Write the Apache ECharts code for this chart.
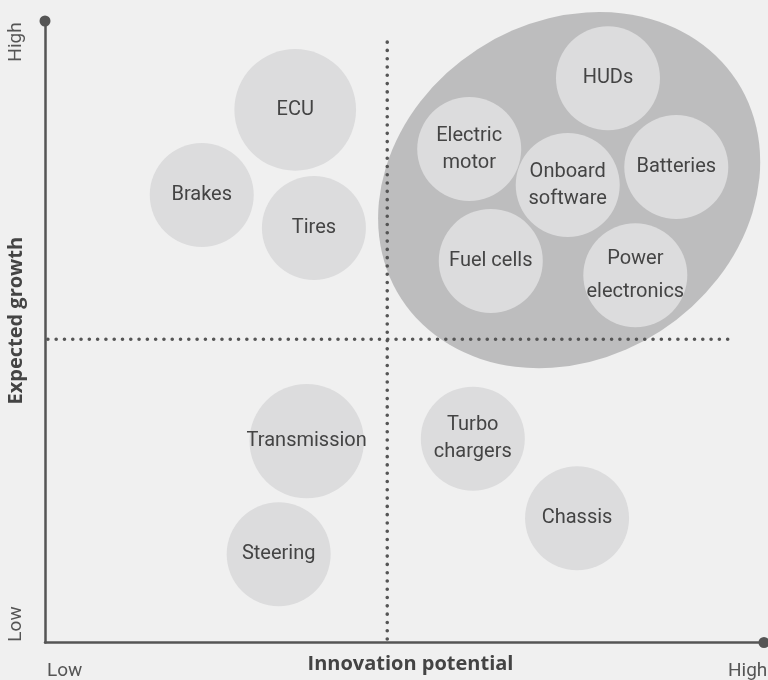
<!DOCTYPE html>
<html>
<head>
<meta charset="utf-8">
<script src="https://cdn.jsdelivr.net/npm/echarts@6.0.0/dist/echarts.min.js"></script>
<style>
  html, body { margin: 0; padding: 0; background: #f0f0f0; }
</style>
</head>
<body>
<!-- chart container -->
<div id="chart" style="width:768px; height:680px"></div>
<script>
// bubble names (\n = line break inside the bubble)
var names = ["ECU", "Brakes", "Tires", "HUDs", "Electric\nmotor", "Onboard\nsoftware",
  "Batteries", "Fuel cells", "Power\nelectronics", "Transmission", "Steering",
  "Turbo\nchargers", "Chassis"];
// innovation potential (0-100)
var innovation = [34.8, 21.8, 37.4, 78.3, 59.0, 72.7, 87.8, 62.0, 82.1, 36.4, 32.5, 59.5, 74.0];
// expected growth (0-100)
var growth = [85.7, 72.0, 66.7, 90.8, 79.4, 73.6, 76.5, 61.4, 59.1, 32.4, 14.2, 32.8, 20.0];
// relative bubble weight
var weight = [1.17, 1, 1, 1, 1, 1, 1, 1, 1, 1.1, 1, 1, 1];

// quadrant divider lines
var vLine = [[47.6, 96.6], [47.6, 0.4]];
var hLine = [[0.4, 48.8], [95.0, 48.8]];
// centre of the highlighted cluster
var cluster = [[72.9, 72.8]];

var axisLabels = { low: "Low", high: "High" };

var AXIS_COLOR = "#555555";
var TEXT_COLOR = "#444444";
var DOT = { color: AXIS_COLOR, width: 3.6, type: [0.01, 8.28], cap: "round" };

var bubbleData = names.map(function (n, i) {
  var item = { name: n, value: [innovation[i], growth[i], weight[i]] };
  if (n === "Power\nelectronics") {
    item.label = { lineHeight: 33 };
  }
  return item;
});

var myChart = echarts.init(document.getElementById("chart"));

myChart.setOption({
  backgroundColor: "#f0f0f0",
  animation: false,
  grid: { left: 45, right: 4, top: 21, bottom: 37.5, containLabel: false, outerBoundsMode: "none" },
  xAxis: {
    type: "value",
    min: 0,
    max: 100,
    name: "Innovation potential",
    nameLocation: "middle",
    nameGap: 12,
    nameTextStyle: {
      color: TEXT_COLOR, fontFamily: "Open Sans", fontWeight: "bold", fontSize: 20,
      verticalAlign: "top", padding: [0, 0, 0, 12]
    },
    axisLine: {
      show: true,
      symbol: ["none", "circle"],
      symbolSize: [11, 11],
      lineStyle: { color: AXIS_COLOR, width: 2.5 }
    },
    axisTick: { show: false },
    axisLabel: { show: false },
    splitLine: { show: false }
  },
  yAxis: {
    type: "value",
    min: 0,
    max: 100,
    name: "Expected growth",
    nameLocation: "middle",
    nameGap: 19,
    nameRotate: 90,
    nameTextStyle: {
      color: TEXT_COLOR, fontFamily: "Open Sans", fontWeight: "bold", fontSize: 20,
      padding: [0, 0, 0, 22]
    },
    axisLine: {
      show: true,
      symbol: ["none", "circle"],
      symbolSize: [11, 11],
      lineStyle: { color: AXIS_COLOR, width: 2.5 }
    },
    axisTick: { show: false },
    axisLabel: { show: false },
    splitLine: { show: false }
  },
  // Low / High at the axis ends
  graphic: [
    { type: "text", x: 16, y: 42, rotation: Math.PI / 2,
      style: { text: axisLabels.high, fill: AXIS_COLOR, font: "19px Roboto", align: "center", verticalAlign: "middle" } },
    { type: "text", x: 16, y: 624, rotation: Math.PI / 2,
      style: { text: axisLabels.low, fill: AXIS_COLOR, font: "19px Roboto", align: "center", verticalAlign: "middle" } },
    { type: "text", x: 47, y: 671,
      style: { text: axisLabels.low, fill: AXIS_COLOR, font: "19px Roboto", align: "left", verticalAlign: "middle" } },
    { type: "text", x: 728, y: 671,
      style: { text: axisLabels.high, fill: AXIS_COLOR, font: "19px Roboto", align: "left", verticalAlign: "middle" } }
  ],
  series: [
    {
      // big tilted ellipse behind the top-right group
      type: "custom",
      silent: true,
      z: 1,
      data: cluster,
      renderItem: function (params, api) {
        var c = api.coord([api.value(0), api.value(1)]);
        return {
          type: "circle",
          x: c[0],
          y: c[1],
          rotation: 33 * Math.PI / 180,
          scaleX: 200 / 168,
          scaleY: 1,
          shape: { cx: 0, cy: 0, r: 168 },
          style: { fill: "#bdbdbe" }
        };
      }
    },
    {
      type: "line",
      silent: true,
      z: 2,
      symbol: "none",
      data: vLine,
      lineStyle: DOT
    },
    {
      type: "line",
      silent: true,
      z: 2,
      symbol: "none",
      data: hLine,
      lineStyle: DOT
    },
    {
      type: "scatter",
      z: 3,
      data: bubbleData,
      symbolSize: function (val) {
        return 104 * val[2];
      },
      itemStyle: { color: "#dcdcdd", opacity: 1 },
      label: {
        show: true,
        position: "inside",
        formatter: "{b}",
        color: TEXT_COLOR,
        fontFamily: "Roboto",
        fontSize: 20,
        lineHeight: 27
      },
      emphasis: { disabled: true }
    }
  ]
});
</script>
</body>
</html>
